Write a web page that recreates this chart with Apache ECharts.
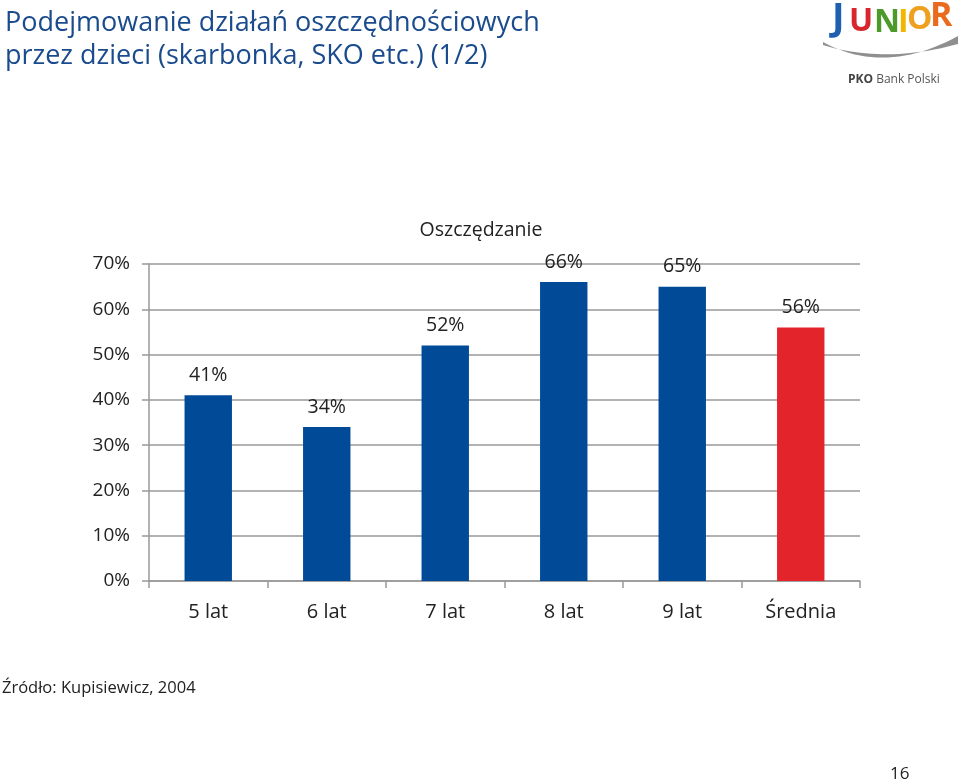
<!DOCTYPE html>
<html>
<head>
<meta charset="utf-8">
<script src="https://cdn.jsdelivr.net/npm/echarts@6/dist/echarts.min.js"></script>
<style>
html,body{margin:0;padding:0;background:#fff;}
#c{width:960px;height:781px;}
</style>
</head>
<body>
<div id="c"></div>
<script>
var categories = ['5 lat', '6 lat', '7 lat', '8 lat', '9 lat', 'Średnia'];
var values = [41, 34, 52, 66, 65, 56];
var barColors = ['#004a98', '#004a98', '#004a98', '#004a98', '#004a98', '#e3242b'];
var yTicks = [0, 10, 20, 30, 40, 50, 60, 70];

var FONT = 'Open Sans';

// swoosh of the logo (decoration)
function swoosh() {
  var pts = [];
  var n = 24, i, t;
  function q(p0, p1, p2, t) { return (1 - t) * (1 - t) * p0 + 2 * (1 - t) * t * p1 + t * t * p2; }
  for (i = 0; i <= n; i++) { t = i / n; pts.push([q(823, 885, 958, t), q(42, 76, 36, t)]); }
  for (i = n; i >= 0; i--) { t = i / n; pts.push([q(823, 885, 958, t), q(45, 64, 44, t)]); }
  return pts;
}

var chart = echarts.init(document.getElementById('c'), null, {renderer: 'canvas'});
var option = {
  backgroundColor: '#ffffff',
  animation: false,
  textStyle: {fontFamily: FONT},
  title: {
    text: 'Oszczędzanie',
    left: 476, top: 215,
    textAlign: 'center',
    textStyle: {fontFamily: FONT, fontSize: 19.5, fontWeight: 'normal', color: '#222'}
  },
  grid: {left: 149, right: 100, top: 264, bottom: 200, containLabel: false},
  xAxis: {
    type: 'category',
    data: categories,
    axisLine: {lineStyle: {color: '#999', width: 1.5}},
    axisTick: {show: true, length: 7, lineStyle: {color: '#999', width: 1.5}},
    axisLabel: {fontFamily: FONT, fontSize: 20, color: '#222', margin: 21}
  },
  yAxis: {
    type: 'value',
    min: yTicks[0], max: yTicks[yTicks.length - 1], interval: 10,
    axisLine: {show: true, lineStyle: {color: '#999', width: 1.5}},
    axisTick: {show: true, length: 7, lineStyle: {color: '#999', width: 1.5}},
    splitLine: {lineStyle: {color: '#999', width: 1.5}},
    axisLabel: {fontFamily: FONT, fontSize: 19, color: '#222', margin: 19, formatter: '{value}%'}
  },
  series: [{
    type: 'bar',
    barWidth: '40%',
    data: values.map(function (v, i) { return {value: v, itemStyle: {color: barColors[i]}}; }),
    label: {
      show: true, position: 'top', distance: 10,
      formatter: '{c}%', fontFamily: FONT, fontSize: 19.5, color: '#222'
    }
  }],
  graphic: [
    {type: 'text', x: 5, y: 7, style: {text: 'Podejmowanie działań oszczędnościowych\nprzez dzieci (skarbonka, SKO etc.) (1/2)', font: '27px "' + FONT + '"', fill: '#1a4b8c', lineHeight: 33}},
    {type: 'text', x: 2, y: 680, style: {text: 'Źródło: Kupisiewicz, 2004', font: '16.5px "' + FONT + '"', fill: '#222'}},
    {type: 'text', x: 890, y: 766, style: {text: '16', font: '17px "' + FONT + '"', fill: '#222'}},
    {type: 'polygon', shape: {points: swoosh()}, style: {fill: '#8f8f8f'}},
    {type: 'text', x: 832, y: 0, style: {text: 'J', font: 'bold 38px "' + FONT + '"', fill: '#1f5fb0'}},
    {type: 'text', x: 849, y: 6, style: {text: 'U', font: 'bold 32px "' + FONT + '"', fill: '#d8262e'}},
    {type: 'text', x: 874, y: 7, style: {text: 'N', font: 'bold 32px "' + FONT + '"', fill: '#4c9a2a'}},
    {type: 'text', x: 898, y: 7, style: {text: 'I', font: 'bold 32px "' + FONT + '"', fill: '#f2b600'}},
    {type: 'text', x: 907, y: 4, style: {text: 'O', font: 'bold 32px "' + FONT + '"', fill: '#f0a020'}},
    {type: 'text', x: 930, y: -1, style: {text: 'R', font: 'bold 34px "' + FONT + '"', fill: '#ea6a1e'}},
    {type: 'text', x: 848, y: 74, style: {text: '{b|PKO} Bank Polski', font: '12px "' + FONT + '"', fill: '#555', rich: {b: {fontWeight: 'bold', fontSize: 12, fill: '#444', fontFamily: FONT}}}}
  ]
};
chart.setOption(option);
</script>
</body>
</html>
